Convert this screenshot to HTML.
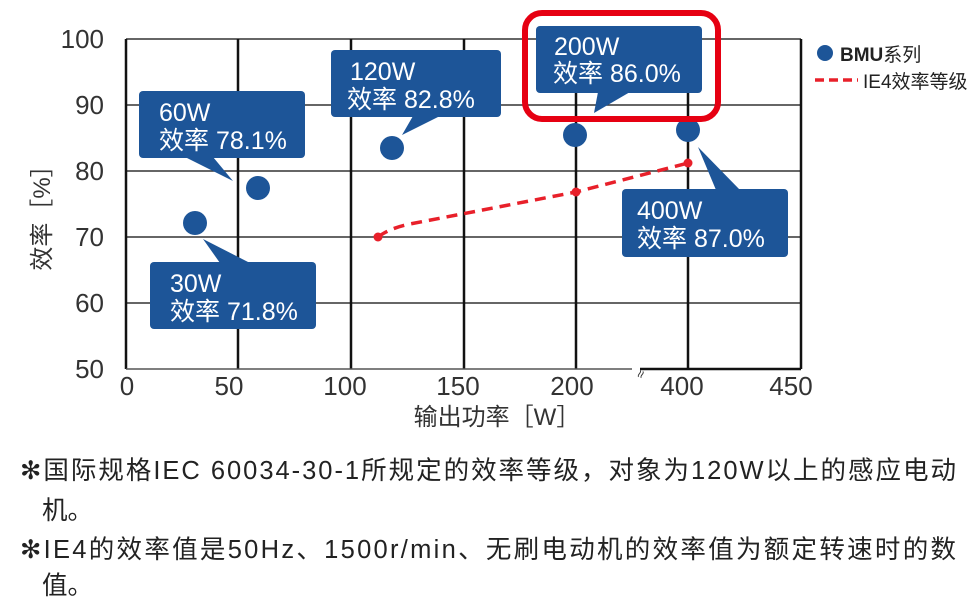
<!DOCTYPE html>
<html><head><meta charset="utf-8"><style>
body{margin:0;background:#fff;width:977px;height:606px;overflow:hidden}
svg text{font-family:"Liberation Sans","Noto Sans CJK SC",sans-serif}
</style></head><body>
<svg width="977" height="606" style="position:absolute;left:0;top:0">
<g stroke="#333" stroke-width="1.5">
<line x1="126" y1="105" x2="801" y2="105"/><line x1="126" y1="171" x2="801" y2="171"/>
<line x1="126" y1="237" x2="801" y2="237"/><line x1="126" y1="303" x2="801" y2="303"/>
<line x1="126" y1="39" x2="801" y2="39"/>
</g>
<g stroke="#111" stroke-width="2.5">
<line x1="238" y1="39" x2="238" y2="369"/><line x1="351" y1="39" x2="351" y2="369"/>
<line x1="464" y1="39" x2="464" y2="369"/><line x1="576" y1="39" x2="576" y2="369"/>
<line x1="688" y1="39" x2="688" y2="369"/><line x1="801" y1="39" x2="801" y2="369"/>
<line x1="126" y1="39" x2="126" y2="369"/>
<line x1="126" y1="369" x2="632" y2="369" stroke="#555" stroke-width="1.5"/>
<line x1="640" y1="369" x2="801" y2="369"/>
</g>
<text x="633" y="380" font-size="14" fill="#333" transform="rotate(-70 638 372)">≈</text>
<g font-size="26" fill="#333" text-anchor="end">
<text x="104" y="48">100</text><text x="104" y="114">90</text><text x="104" y="180">80</text>
<text x="104" y="246">70</text><text x="104" y="312">60</text><text x="104" y="378">50</text>
</g>
<g font-size="26" fill="#333" text-anchor="middle">
<text x="127" y="395">0</text><text x="229" y="395">50</text><text x="345" y="395">100</text>
<text x="458" y="395">150</text><text x="572" y="395">200</text><text x="682" y="395">400</text><text x="791" y="395">450</text>
</g>
<text x="497" y="425" font-size="24" fill="#333" text-anchor="middle">输出功率［W］</text>
<text transform="translate(50,212) rotate(-90)" font-size="24" fill="#333" text-anchor="middle">效率［%］</text>
<path d="M378 237 Q390 228 410 224 L576 192 L688 163" fill="none" stroke="#e8202a" stroke-width="3.5" stroke-dasharray="11,7"/>
<circle cx="378" cy="237" r="4.5" fill="#e8202a"/><circle cx="576" cy="192" r="4.5" fill="#e8202a"/><circle cx="688" cy="163" r="4.5" fill="#e8202a"/>
<g fill="#1d5598">
<circle cx="195" cy="223" r="12"/><circle cx="258" cy="188" r="12"/><circle cx="392" cy="148" r="12"/>
<circle cx="575" cy="135" r="12"/><circle cx="688" cy="130" r="12"/>
<rect x="139" y="91" width="166" height="67" rx="4"/><polygon points="185,157 213,157 233,181"/>
<rect x="150" y="262" width="166" height="67" rx="4"/><polygon points="203,239 220,263 250,263"/>
<rect x="331" y="50" width="170" height="67" rx="4"/><polygon points="413,116 440,116 402,135"/>
<rect x="536" y="26" width="166" height="67" rx="4"/><polygon points="598,92 630,92 594,113"/>
<rect x="622" y="189" width="166" height="68" rx="4"/><polygon points="698,147 716,190 740,190"/>
</g>
<g fill="#fff" font-size="25">
<text x="159" y="121">60W</text><text x="159" y="149">效率 78.1%</text>
<text x="170" y="292">30W</text><text x="170" y="320">效率 71.8%</text>
<text x="350" y="80">120W</text><text x="347" y="108">效率 82.8%</text>
<text x="554" y="55">200W</text><text x="553" y="82">效率 86.0%</text>
<text x="637" y="219">400W</text><text x="637" y="247">效率 87.0%</text>
</g>
<rect x="525" y="13" width="193" height="106" rx="17" fill="none" stroke="#e60012" stroke-width="6"/>
<circle cx="825" cy="53" r="8" fill="#1d5598"/>
<text x="840" y="61" font-size="19" fill="#222"><tspan font-weight="bold">BMU</tspan>系列</text>
<line x1="815" y1="80" x2="858" y2="80" stroke="#e8202a" stroke-width="3.5" stroke-dasharray="9,5"/>
<text x="863" y="88" font-size="19" fill="#222">IE4效率等级</text>
<g font-size="25.5" fill="#222">
<text x="20" y="479" textLength="936" lengthAdjust="spacing">✻国际规格IEC 60034-30-1所规定的效率等级，对象为120W以上的感应电动</text>
<text x="42" y="519">机。</text>
<text x="20" y="558" textLength="936" lengthAdjust="spacing">✻IE4的效率值是50Hz、1500r/min、无刷电动机的效率值为额定转速时的数</text>
<text x="42" y="594">值。</text>
</g>
</svg>
</body></html>
